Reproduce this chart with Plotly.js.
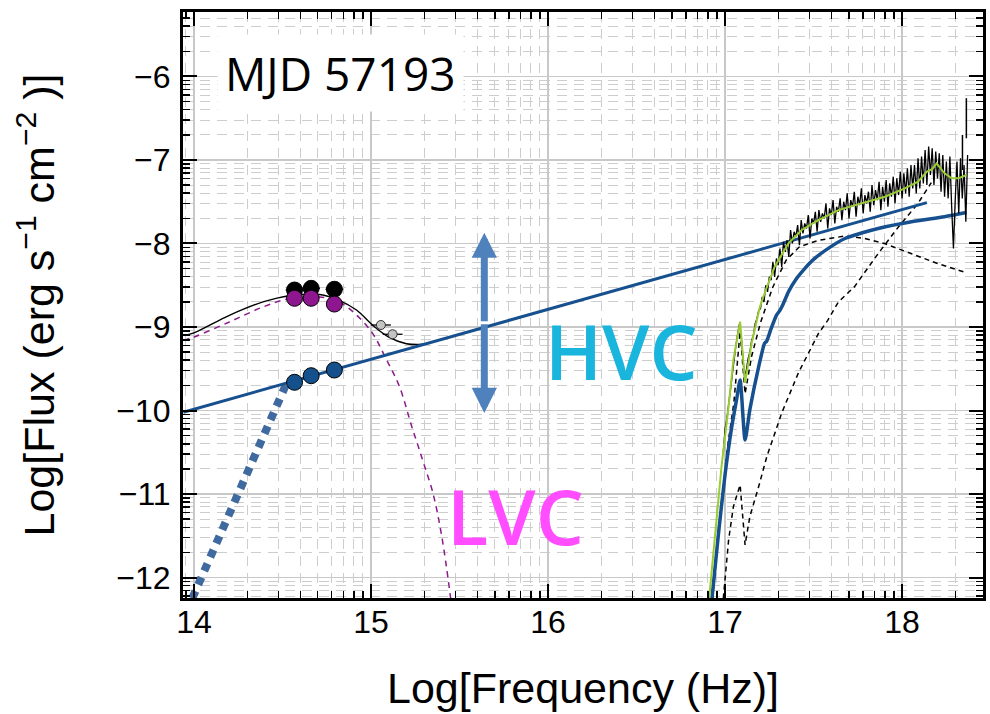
<!DOCTYPE html>
<html><head><meta charset="utf-8">
<script src="https://cdn.plot.ly/plotly-3.0.1.min.js"></script>
<style>html,body{margin:0;padding:0;background:#fff}#chart{width:990px;height:714px}</style>
</head><body><div id="chart"></div>
<script>
// ---------- data ----------
// optical / UV photometry
const blackPtX = [14.568, 14.662, 14.793];
const blackPtY = [-8.557, -8.537, -8.548];
const purplePtX = [14.568, 14.662, 14.793];
const purplePtY = [-8.656, -8.656, -8.725];
const bluePtX = [14.568, 14.662, 14.793];
const bluePtY = [-9.662, -9.583, -9.515];
const grayPtX = [15.056, 15.122];
const grayPtY = [-8.976, -9.087];
const grayPtErrX = [0.056, 0.056];

// total optical model (thin black)
const totX = [13.94, 14.0, 14.2, 14.39, 14.54, 14.71, 14.82, 14.92, 15.01, 15.10, 15.20, 15.27, 15.32];
const totY = [-9.10, -9.07, -8.86, -8.70, -8.625, -8.61, -8.68, -8.80, -8.98, -9.12, -9.20, -9.21, -9.20];

// LVC model (purple dashed)
const lvcX = [13.94, 14.0, 14.2, 14.39, 14.54, 14.71, 14.82, 14.92, 15.01, 15.08, 15.16, 15.23, 15.27, 15.30, 15.35, 15.40, 15.45];
const lvcY = [-9.16, -9.12, -8.94, -8.76, -8.66, -8.64, -8.70, -8.86, -9.08, -9.36, -9.71, -10.19, -10.45, -10.65, -10.99, -11.51, -12.25];

// HVC power law (blue straight)
const plX = [13.94, 18.14];
const plY = [-10.02, -7.51];

// HVC extrapolation (blue dotted)
const dotX = [13.99, 14.19, 14.34, 14.53];
const dotY = [-12.25, -11.28, -10.57, -9.64];

// HVC absorbed (thick blue)
const absX = [16.926, 16.963, 17.001, 17.038, 17.065, 17.085, 17.113, 17.14, 17.19, 17.223, 17.235, 17.26, 17.29, 17.31, 17.325, 17.36, 17.40, 17.45, 17.50, 17.583, 17.677, 17.77, 17.865, 18.053, 18.24, 18.363];
const absY = [-12.25, -11.47, -10.75, -10.19, -9.87, -9.635, -10.353, -9.99, -9.475, -9.195, -9.17, -9.02, -8.86, -8.80, -8.74, -8.57, -8.43, -8.30, -8.19, -8.058, -7.94, -7.875, -7.82, -7.74, -7.68, -7.63];

// total X-ray model (green)
const grnX = [16.91, 16.945, 16.98, 17.02, 17.047, 17.085, 17.113, 17.15, 17.197, 17.23, 17.28, 17.358, 17.433, 17.527, 17.64, 17.77, 17.903, 18.016, 18.09, 18.14, 18.17, 18.195, 18.24, 18.28, 18.318, 18.363];
const grnY = [-12.25, -11.47, -10.67, -9.95, -9.395, -8.936, -9.67, -9.195, -8.757, -8.557, -8.278, -7.998, -7.838, -7.719, -7.60, -7.52, -7.44, -7.34, -7.26, -7.14, -7.11, -7.04, -7.16, -7.22, -7.22, -7.18];

// X-ray component 1 (black dashed)
const c1X = [16.93, 16.97, 17.01, 17.05, 17.085, 17.113, 17.15, 17.20, 17.27, 17.345, 17.42, 17.53, 17.68, 17.79, 17.90, 18.05, 18.20, 18.35];
const c1Y = [-12.25, -11.30, -10.50, -9.90, -9.05, -9.80, -9.35, -8.95, -8.52, -8.20, -8.04, -7.96, -7.91, -7.94, -8.00, -8.12, -8.24, -8.34];

// X-ray component 2 (black dashed, absorbed)
const c2X = [16.99, 17.02, 17.047, 17.085, 17.113, 17.14, 17.19, 17.236, 17.32, 17.414, 17.527, 17.58, 17.64, 17.73, 17.865, 17.98, 18.09, 18.147, 18.165];
const c2Y = [-12.25, -11.55, -11.15, -10.89, -11.61, -11.27, -10.91, -10.55, -10.03, -9.55, -9.08, -8.92, -8.70, -8.52, -8.12, -7.80, -7.52, -7.32, -7.27];

// X-ray spectrum (black)
const xrX = [16.99, 17.00, 17.01, 17.02, 17.03, 17.04, 17.05, 17.06, 17.07, 17.08, 17.09,
  17.10, 17.11, 17.12, 17.13, 17.14, 17.15, 17.16, 17.17, 17.18, 17.19,
  17.20, 17.21, 17.22, 17.23, 17.24, 17.25, 17.26, 17.27, 17.28, 17.29,
  17.30, 17.31, 17.32, 17.33, 17.34, 17.35, 17.36, 17.37, 17.38, 17.39,
  17.40, 17.41, 17.42, 17.43, 17.44, 17.45, 17.46, 17.47, 17.48, 17.49,
  17.50, 17.51, 17.52, 17.53, 17.54, 17.55, 17.56, 17.57, 17.58, 17.59,
  17.60, 17.61, 17.62, 17.63, 17.64, 17.65, 17.66, 17.67, 17.68, 17.69,
  17.70, 17.71, 17.72, 17.73, 17.74, 17.75, 17.76, 17.77, 17.78, 17.79,
  17.80, 17.81, 17.82, 17.83, 17.84, 17.85, 17.86, 17.87, 17.88, 17.89,
  17.90, 17.91, 17.92, 17.93, 17.94, 17.95, 17.96, 17.97, 17.98, 17.99,
  18.00, 18.01, 18.02, 18.03, 18.04, 18.05, 18.06, 18.07, 18.08, 18.09,
  18.10, 18.11, 18.12, 18.13, 18.14, 18.15, 18.16, 18.17, 18.18, 18.19,
  18.20, 18.21, 18.22, 18.23, 18.24, 18.25, 18.26, 18.27, 18.28, 18.29,
  18.30, 18.31, 18.32, 18.33, 18.34, 18.35, 18.36, 18.37];
const xrY = [-10.50, -10.22, -10.10, -9.92, -9.74, -9.55, -9.40, -9.24, -9.10, -8.97, -9.08,
  -9.34, -9.60, -9.52, -9.38, -9.30, -9.16, -9.10, -8.96, -8.90, -8.80,
  -8.78, -8.64, -8.70, -8.50, -8.58, -8.40, -8.44, -8.22, -8.40, -8.18,
  -8.26, -8.06, -8.28, -7.98, -8.10, -7.96, -8.16, -7.84, -8.00, -7.86,
  -7.92, -7.78, -8.02, -7.72, -7.88, -7.76, -7.82, -7.66, -7.94, -7.70,
  -7.76, -7.62, -7.86, -7.60, -7.74, -7.64, -7.70, -7.52, -7.82, -7.58,
  -7.66, -7.48, -7.76, -7.56, -7.62, -7.46, -7.72, -7.50, -7.60, -7.40,
  -7.70, -7.48, -7.56, -7.38, -7.68, -7.44, -7.54, -7.34, -7.64, -7.42,
  -7.52, -7.38, -7.62, -7.30, -7.54, -7.36, -7.48, -7.26, -7.60, -7.32,
  -7.50, -7.24, -7.56, -7.28, -7.44, -7.20, -7.52, -7.22, -7.42, -7.14,
  -7.46, -7.16, -7.40, -7.10, -7.44, -7.06, -7.34, -7.06, -7.40, -6.98,
  -7.34, -6.96, -7.28, -6.88, -7.30, -6.84, -7.18, -6.86, -7.30, -6.90,
  -7.22, -6.92, -7.38, -6.94, -7.44, -7.02, -7.46, -6.96, -7.56, -8.06,
  -7.48, -7.02, -7.64, -6.98, -7.46, -7.06, -7.74, -6.94];
// isolated large error bars at the high-energy end
const spikeX = [18.363, 18.341];
const spikeY = [-6.50, -6.91];
const spikeErr = [0.24, 0.21];

// ---------- grid helpers (style only) ----------
const xMinor = [], yMinor = [];
for (let d = 13; d <= 18; d++) for (let k = 2; k <= 9; k++) xMinor.push(d + Math.log10(k));
for (let d = -13; d <= -6; d++) for (let k = 2; k <= 9; k++) yMinor.push(d + Math.log10(k));

const FONT = 'Liberation Sans, Arial, sans-serif';
const blue = '#17508f';

const traces = [
  {x: c1X, y: c1Y, mode: 'lines', line: {color: '#000', width: 1.5, dash: '5px,4px'}},
  {x: c2X, y: c2Y, mode: 'lines', line: {color: '#000', width: 1.5, dash: '5px,4px'}},
  {x: dotX, y: dotY, mode: 'lines', line: {color: '#3f6a9f', width: 8, dash: '8px,7px'}},
  {x: lvcX, y: lvcY, mode: 'lines', line: {color: '#8b1a8b', width: 1.5, dash: '6px,5px', shape: 'spline'}},
  {x: totX, y: totY, mode: 'lines', line: {color: '#000', width: 1.4, shape: 'spline'}},
  {x: plX, y: plY, mode: 'lines', line: {color: blue, width: 3}},
  {x: absX, y: absY, mode: 'lines', line: {color: blue, width: 3.5, shape: 'spline', smoothing: 0.6}},
  {x: xrX, y: xrY, mode: 'lines', line: {color: '#000', width: 1.3}},
  {x: spikeX, y: spikeY, mode: 'markers', marker: {size: 1, color: '#000'},
   error_y: {type: 'data', array: spikeErr, visible: true, thickness: 1.5, width: 0, color: '#000'}},
  {x: grnX, y: grnY, mode: 'lines', line: {color: '#99cc33', width: 2}},
  {x: grayPtX, y: grayPtY, mode: 'markers',
   marker: {size: 9, color: '#c4c4c4', line: {color: '#333', width: 1}},
   error_x: {type: 'data', array: grayPtErrX, visible: true, thickness: 1.3, width: 0, color: '#000'}},
  {x: blackPtX, y: blackPtY, mode: 'markers',
   marker: {size: 16, color: '#000', line: {color: '#000', width: 1}},
   error_x: {type: 'data', array: [0.05, 0.05, 0.05], visible: true, thickness: 1.3, width: 0, color: '#000'}},
  {x: purplePtX, y: purplePtY, mode: 'markers',
   marker: {size: 16, color: '#8e168e', line: {color: '#000', width: 1}}},
  {x: bluePtX, y: bluePtY, mode: 'markers',
   marker: {size: 16, color: '#14508c', line: {color: '#000', width: 1}}}
];
traces.forEach(t => { t.showlegend = false; t.hoverinfo = 'skip'; });

function axis(range, tick0, minorVals, title, standoff, labelOff) {
  return {
    range: range, tickmode: 'linear', tick0: tick0, dtick: 1,
    ticks: 'inside', ticklen: 14, tickwidth: 2, tickcolor: '#000',
    showline: true, linewidth: 3, linecolor: '#000', mirror: 'allticks',
    showgrid: true, gridcolor: '#c8c8c8', gridwidth: 1.5, zeroline: false,
    tickfont: {family: FONT, size: 32, color: '#000'},
    ticklabelstandoff: labelOff,
    minor: {tickmode: 'array', tickvals: minorVals, ticks: 'inside', ticklen: 7, tickwidth: 1.5,
            tickcolor: '#000', showgrid: true, gridcolor: '#cdcdcd', gridwidth: 1, griddash: '10px,7px'},
    title: {text: title, font: {family: FONT, size: 43, color: '#000'}, standoff: standoff}
  };
}

const layout = {
  width: 990, height: 714,
  margin: {l: 183, r: 7, t: 12, b: 116},
  paper_bgcolor: '#fff', plot_bgcolor: '#fff',
  xaxis: axis([13.938, 18.457], 14, xMinor, 'Log[Frequency (Hz)]', 34, -6),
  yaxis: axis([-12.245, -5.228], -12, yMinor, 'Log[Flux (erg s<sup>−1</sup> cm<sup>−2</sup> )]', 49, 3),
  annotations: [
    {x: 14.827, y: -5.958, xref: 'x', yref: 'y', text: 'MJD 57193', showarrow: false,
     font: {family: 'Open Sans, sans-serif', size: 46, color: '#000'},
     bgcolor: '#fff', borderpad: 7, xanchor: 'center', yanchor: 'middle'},
    {x: 16.417, y: -9.287, xref: 'x', yref: 'y', text: 'HVC', showarrow: false,
     font: {family: 'Open Sans, sans-serif', size: 76, color: '#1ab5dc', weight: 600},
     xanchor: 'center', yanchor: 'middle'},
    {x: 15.817, y: -11.261, xref: 'x', yref: 'y', text: 'LVC', showarrow: false,
     font: {family: 'Open Sans, sans-serif', size: 76, color: '#ff4dff', weight: 600},
     xanchor: 'center', yanchor: 'middle'},
    {x: 15.64, y: -7.87, ax: 15.64, ay: -8.95, xref: 'x', yref: 'y', axref: 'x', ayref: 'y',
     text: '', showarrow: true, arrowhead: 2, arrowsize: 0.72, arrowwidth: 7, arrowcolor: '#4f81bd', standoff: 0, startstandoff: 0},
    {x: 15.64, y: -10.03, ax: 15.64, ay: -8.95, xref: 'x', yref: 'y', axref: 'x', ayref: 'y',
     text: '', showarrow: true, arrowhead: 2, arrowsize: 0.72, arrowwidth: 7, arrowcolor: '#4f81bd', standoff: 0, startstandoff: 0}
  ]
};

Plotly.newPlot('chart', traces, layout, {staticPlot: true, displayModeBar: false});
</script></body></html>
